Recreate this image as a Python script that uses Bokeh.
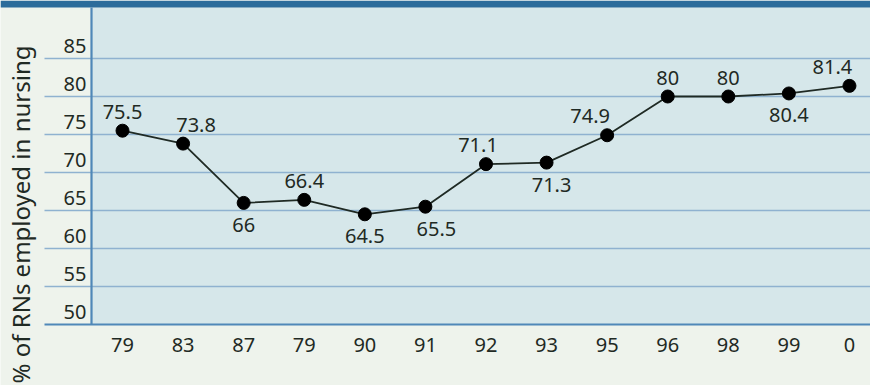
import math

from bokeh.core.properties import value
from bokeh.embed import file_html
from bokeh.models import ColumnDataSource, Range1d
from bokeh.plotting import figure
from bokeh.resources import INLINE

# Survey years (two-digit) and share of RNs employed in nursing
years = ["79", "83", "87", "79", "90", "91", "92", "93", "95", "96", "98", "99", "0"]
pct = [75.5, 73.8, 66, 66.4, 64.5, 65.5, 71.1, 71.3, 74.9, 80, 80, 80.4, 81.4]
y_ticks = [50, 55, 60, 65, 70, 75, 80, 85]
y_title = "% of RNs employed in nursing"

# Value label placement: 1 = above the point, -1 = below; horizontal nudges in px
label_side = [1, 1, -1, 1, -1, -1, 1, -1, 1, 1, 1, -1, 1]
label_dx = [0, 13, 0, 0, 0, 11, -8, 5, -17, 0, 0, 0, -17]

W, H = 870, 385
X_STEP, X0_PX = 60.58, 122.0   # px per category, px of first category
Y_STEP, Y50_PX = 7.6, 324.0    # px per percentage point, px of the 50 line


def fx(px):
    return (px - X0_PX) / X_STEP


def fy(py):
    return 50 + (Y50_PX - py) / Y_STEP


FONT = value("Noto Sans")
PAPER = "#eef3ec"
PANEL = "#d6e7ea"
HEADER = "#2c6c9b"
GRID = "#8fb2d0"
AXIS = "#4f88b8"
INK = "#1f2a24"

x_lo, x_hi = fx(0), fx(W)
y_lo, y_hi = fy(H), fy(0)

p = figure(width=W, height=H, output_backend="svg", toolbar_location=None,
           x_range=Range1d(x_lo, x_hi), y_range=Range1d(y_lo, y_hi),
           min_border=0, outline_line_color=None)
p.xaxis.visible = False
p.yaxis.visible = False
p.xgrid.visible = False
p.ygrid.visible = False
p.background_fill_color = PAPER
p.border_fill_color = PAPER

# chart panel and the header band above it
p.quad(left=[fx(91)], right=[x_hi], bottom=[50], top=[fy(7)],
       fill_color=PANEL, line_color=None)
p.quad(left=[x_lo], right=[x_hi], bottom=[fy(7)], top=[y_hi],
       fill_color=HEADER, line_color=None)

# horizontal rules, running under the tick labels
grid_vals = [v for v in y_ticks if v != y_ticks[0]]
p.segment(x0=[fx(44)] * len(grid_vals), x1=[x_hi] * len(grid_vals),
          y0=grid_vals, y1=grid_vals, line_color=GRID, line_width=1.6)
p.segment(x0=[fx(44)], x1=[x_hi], y0=[y_ticks[0]], y1=[y_ticks[0]],
          line_color=AXIS, line_width=2.2)
p.segment(x0=[fx(91)], x1=[fx(91)], y0=[y_ticks[0]], y1=[fy(7)],
          line_color=AXIS, line_width=2.2)

# y tick labels sit just above their rules
p.text(x=[fx(86)] * len(y_ticks), y=y_ticks, text=[str(v) for v in y_ticks],
       text_font=FONT, text_font_size="20px", text_color=INK,
       text_align="right", text_baseline="middle", y_offset=-13)

# x tick labels
xs = list(range(len(years)))
p.text(x=xs, y=[y_ticks[0]] * len(xs), text=years,
       text_font=FONT, text_font_size="20px", text_color=INK,
       text_align="center", text_baseline="middle", y_offset=20)

# axis title
p.text(x=[fx(20)], y=[fy(214)], text=[y_title], angle=math.pi / 2,
       text_font=FONT, text_font_size="24px", text_color=INK,
       text_align="center", text_baseline="middle")

# the series
src = ColumnDataSource(dict(
    x=xs, y=pct, label=[f"{v:g}" for v in pct],
    dx=label_dx, dy=[-19 if s > 0 else 22 for s in label_side],
))
p.line("x", "y", source=src, line_color=INK, line_width=1.8)
p.scatter("x", "y", source=src, size=13, fill_color="#000000", line_color="#000000")
p.text("x", "y", text="label", source=src, x_offset="dx", y_offset="dy",
       text_font=FONT, text_font_size="20px", text_color=INK,
       text_align="center", text_baseline="middle")

open("out.html", "w").write(file_html(p, INLINE))
